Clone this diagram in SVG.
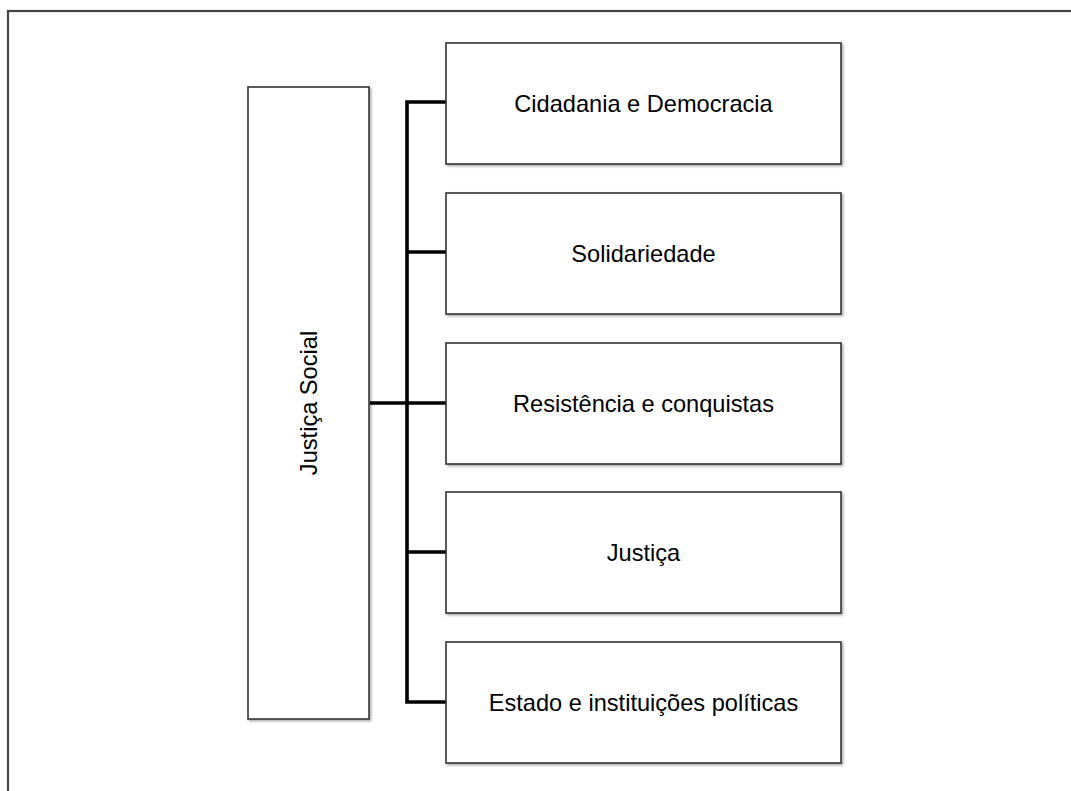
<svg xmlns="http://www.w3.org/2000/svg" width="1071" height="791" viewBox="0 0 1071 791">
<defs>
<filter id="sh" x="-5%" y="-5%" width="115%" height="115%">
<feDropShadow dx="1.5" dy="1.5" stdDeviation="1" flood-color="#000" flood-opacity="0.35"/>
</filter>
<style>
.box{fill:#fff;stroke:#333;stroke-width:1.6;filter:url(#sh);}
.lbl{font-family:"Liberation Sans",Arial,sans-serif;font-size:23.6px;fill:#000;text-anchor:middle;dominant-baseline:central;}
.conn{fill:none;stroke:#000;stroke-width:3.6;}
</style>
</defs>
<rect x="0" y="0" width="1071" height="791" fill="#fff"/>
<rect x="8" y="11" width="1080" height="800" fill="none" stroke="#444" stroke-width="2.2"/>
<g id="connectors">
<path class="conn" d="M370 403 H407 M446 102 H407 V702 H446 M407 252 H446 M407 403 H446 M407 552 H446"/>
</g>
<g id="node-justica-social">
<rect class="box" x="248" y="87" width="121" height="632"/>
<text class="lbl" transform="translate(309 403) rotate(-90)">Justiça Social</text>
</g>
<g id="node-cidadania">
<rect class="box" x="446" y="43" width="395" height="121"/>
<text class="lbl" x="643.5" y="103.5">Cidadania e Democracia</text>
</g>
<g id="node-solidariedade">
<rect class="box" x="446" y="193" width="395" height="121"/>
<text class="lbl" x="643.5" y="253.5">Solidariedade</text>
</g>
<g id="node-resistencia">
<rect class="box" x="446" y="343" width="395" height="121"/>
<text class="lbl" x="643.5" y="403.5">Resistência e conquistas</text>
</g>
<g id="node-justica">
<rect class="box" x="446" y="492" width="395" height="121"/>
<text class="lbl" x="643.5" y="552.5">Justiça</text>
</g>
<g id="node-estado">
<rect class="box" x="446" y="642" width="395" height="121"/>
<text class="lbl" x="643.5" y="702.5">Estado e instituições políticas</text>
</g>
</svg>
